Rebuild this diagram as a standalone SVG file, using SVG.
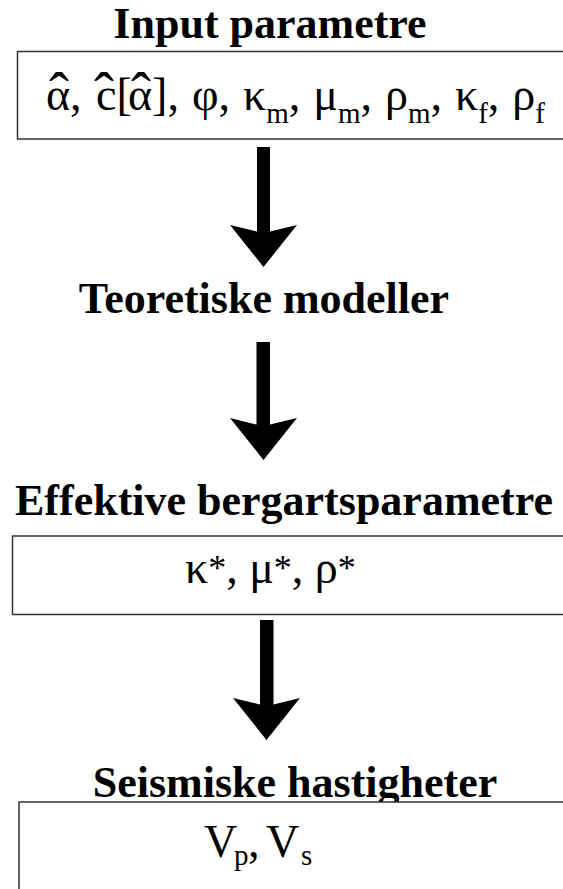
<svg xmlns="http://www.w3.org/2000/svg" width="563" height="889" viewBox="0 0 563 889">
<style>
.title{font-family:"Liberation Serif","Times New Roman",serif;font-weight:bold;font-size:44px;fill:#000;text-anchor:middle}
.math{font-family:"Liberation Serif","Times New Roman",serif;font-size:46px;fill:#000}
.sub{font-size:29px}
.star{font-size:36px}
.hat{font-size:60px}
.box{fill:#fff;stroke:#333;stroke-width:1.5}
.arrow{fill:#000;stroke:none}
</style>
<rect width="563" height="889" fill="#fff"/>
<g id="input">
<text class="title" x="270" y="38">Input parametre</text>
<rect class="box" x="17.5" y="51.5" width="560" height="87.5"/>
<text class="math" y="110" word-spacing="1.5"><tspan class="hat" x="49" y="113">ˆ</tspan><tspan x="46" y="110">α, </tspan><tspan class="hat" x="94" y="113">ˆ</tspan><tspan x="96" y="110">c[</tspan><tspan class="hat" x="131" y="113">ˆ</tspan><tspan x="128" y="110">α], φ, κ</tspan><tspan class="sub" dy="13">m</tspan><tspan dy="-13">, μ</tspan><tspan class="sub" dy="13">m</tspan><tspan dy="-13">, ρ</tspan><tspan class="sub" dy="13">m</tspan><tspan dy="-13">, κ</tspan><tspan class="sub" dy="13">f</tspan><tspan dy="-13">, ρ</tspan><tspan class="sub" dy="13">f</tspan></text>
</g>
<g id="models">
<text class="title" x="264" y="313">Teoretiske modeller</text>
</g>
<g id="effective">
<text class="title" x="284" y="515">Effektive bergartsparametre</text>
<rect class="box" x="12.5" y="536" width="560" height="78.5"/>
<text class="math" y="583"><tspan x="185">κ</tspan><tspan class="star" y="580">*</tspan><tspan y="583">, μ</tspan><tspan class="star" y="580">*</tspan><tspan y="583">, ρ</tspan><tspan class="star" y="580">*</tspan></text>
</g>
<g id="seismic">
<text class="title" x="295" y="797">Seismiske hastigheter</text>
<rect class="box" x="19" y="802" width="560" height="100"/>
<text class="math" y="857"><tspan x="204">V</tspan><tspan class="sub" x="234" y="865">p</tspan><tspan x="248" y="857">,</tspan><tspan x="266">V</tspan><tspan class="sub" x="301" y="865">s</tspan></text>
</g>
<g id="connectors">
<polygon class="arrow" points="257,147 270,147 270,231.5 297,225 263.5,267 230,225 257,231.5"/>
<polygon class="arrow" points="256.5,342 270,342 270,424.5 297,418 263.5,460 230,418 256.5,424.5"/>
<polygon class="arrow" points="260,620 273.5,620 273.5,704.5 300,698 266.5,740 233,698 260,704.5"/>
</g>
</svg>
